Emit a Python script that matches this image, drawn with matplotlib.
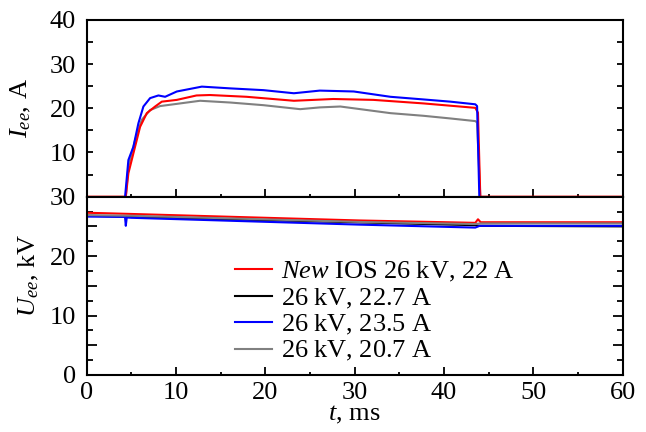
import matplotlib
matplotlib.use("Agg")
import matplotlib.pyplot as plt
from matplotlib.ticker import MultipleLocator, FuncFormatter

plt.rcParams['font.family'] = ['Liberation Serif', 'DejaVu Serif']
plt.rcParams['mathtext.fontset'] = 'custom'
plt.rcParams['mathtext.rm'] = 'Liberation Serif'
plt.rcParams['mathtext.it'] = 'Liberation Serif:italic'

# current traces, t in ms, I in A
t_red = [0, 4.39, 4.68, 5.24, 5.99, 6.74, 7.67, 8.42, 10.1, 12.3, 13.8, 17.9, 23.2, 27.6, 32.1, 37.7, 43.5, 43.8, 44.06, 60]
i_red = [0, 0, 5.3, 9.8, 15.8, 18.9, 20.4, 21.5, 21.9, 22.9, 23.0, 22.6, 21.7, 22.1, 21.9, 21.1, 20.1, 19.0, 0, 0]

t_blue = [4.31, 4.68, 5.24, 5.80, 6.36, 7.11, 8.04, 8.79, 10.1, 12.9, 16.1, 19.8, 23.2, 26.1, 29.9, 34.0, 37.7, 40.7, 43.5, 43.7, 43.95]
i_blue = [0, 8.3, 11.3, 16.6, 20.4, 22.3, 22.9, 22.6, 23.8, 24.9, 24.5, 24.1, 23.4, 24.0, 23.8, 22.6, 22.0, 21.5, 20.9, 20.5, 0]

t_gray = [4.39, 4.68, 5.43, 6.18, 7.11, 8.23, 10.1, 12.7, 16.1, 19.8, 23.9, 26.1, 28.4, 34.0, 37.7, 40.7, 43.5, 43.7, 44.06]
i_gray = [0, 6.8, 12.8, 17.4, 19.6, 20.5, 21.0, 21.7, 21.3, 20.7, 19.8, 20.2, 20.4, 18.9, 18.3, 17.7, 17.1, 16.8, 0]

# voltage traces, U in kV
tu_red = [0, 4.9, 30.5, 43.5, 43.8, 44.1, 60]
u_red = [27.3, 27.1, 26.0, 25.6, 26.2, 25.7, 25.7]

tu_black = [0, 5.0, 43.5, 44.0, 60]
u_black = [26.8, 26.6, 25.2, 25.1, 25.0]

tu_blue = [0, 4.3, 4.39, 4.5, 5.0, 30.5, 43.5, 44.0, 60]
u_blue = [26.65, 26.6, 25.1, 26.5, 26.45, 25.3, 24.8, 25.1, 25.1]

tu_gray = [0, 5.0, 30.5, 43.5, 44.0, 60]
u_gray = [26.9, 26.8, 25.75, 25.4, 25.5, 25.5]

# all labels as mathtext so the legend rows get equal heights
labels = [r"$\mathit{New}\ \mathrm{IOS\ 26\ kV{,}\ 22\ A}$",
          r"$\mathrm{26\ kV{,}\ 22.7\ A}$",
          r"$\mathrm{26\ kV{,}\ 23.5\ A}$",
          r"$\mathrm{26\ kV{,}\ 20.7\ A}$"]

fig = plt.figure(figsize=(6.46, 4.32), dpi=100)
ax0 = fig.add_axes([0.134, 0.5447, 0.830, 0.4093])
ax1 = fig.add_axes([0.134, 0.132, 0.830, 0.4127])

lw = 1.5
ax0.plot(t_gray, i_gray, color="#808080", lw=lw)
ax0.plot(t_red, i_red, color="red", lw=lw)
ax0.plot(t_blue, i_blue, color="blue", lw=lw)

ax1.plot(tu_red, u_red, color="red", lw=lw, label=labels[0])
ax1.plot(tu_black, u_black, color="black", lw=lw, label=labels[1])
ax1.plot(tu_blue, u_blue, color="blue", lw=lw, label=labels[2])
ax1.plot(tu_gray, u_gray, color="#808080", lw=lw, label=labels[3])

ax0.set_xlim(0, 60)
ax0.set_ylim(0, 40)
ax1.set_xlim(0, 60)
ax1.set_ylim(0, 30)

ax0.set_yticks([10, 20, 30, 40])
ax0.yaxis.set_minor_locator(MultipleLocator(5))
ax1.yaxis.set_major_locator(MultipleLocator(5))
ax1.yaxis.set_major_formatter(FuncFormatter(lambda v, p: "%d" % v if v % 10 == 0 else ""))
ax1.yaxis.set_minor_locator(MultipleLocator(2.5))
for ax in (ax0, ax1):
    ax.xaxis.set_major_locator(MultipleLocator(10))
    ax.xaxis.set_minor_locator(MultipleLocator(5))
    ax.tick_params(which="both", direction="in", top=False, right=True, labelsize=19, width=1.3)
    ax.tick_params(axis="x", which="major", length=6, pad=5)
    ax.tick_params(axis="x", which="minor", length=2.5)
    ax.tick_params(axis="y", which="both", length=4.5, pad=7.5)
    for s in ax.spines.values():
        s.set_linewidth(1.5)
ax1.tick_params(axis="y", which="major", length=7)
ax0.tick_params(labelbottom=False)

ax0.set_ylabel(r"$I_{ee}$, A", fontsize=19)
ax1.set_ylabel(r"$U_{ee}$, kV", fontsize=19)
ax1.set_xlabel(r"$t$, ms", fontsize=19, labelpad=0)
ax0.yaxis.set_label_coords(-0.10, 0.5)
ax1.yaxis.set_label_coords(-0.085, 0.56)

ax1.legend(loc="upper left", bbox_to_anchor=(0.277, 0.645), frameon=False, fontsize=19,
           handlelength=1.4, labelspacing=0.09, handletextpad=0.34, borderpad=0,
           borderaxespad=0)

fig.savefig("out.png", dpi=100)
